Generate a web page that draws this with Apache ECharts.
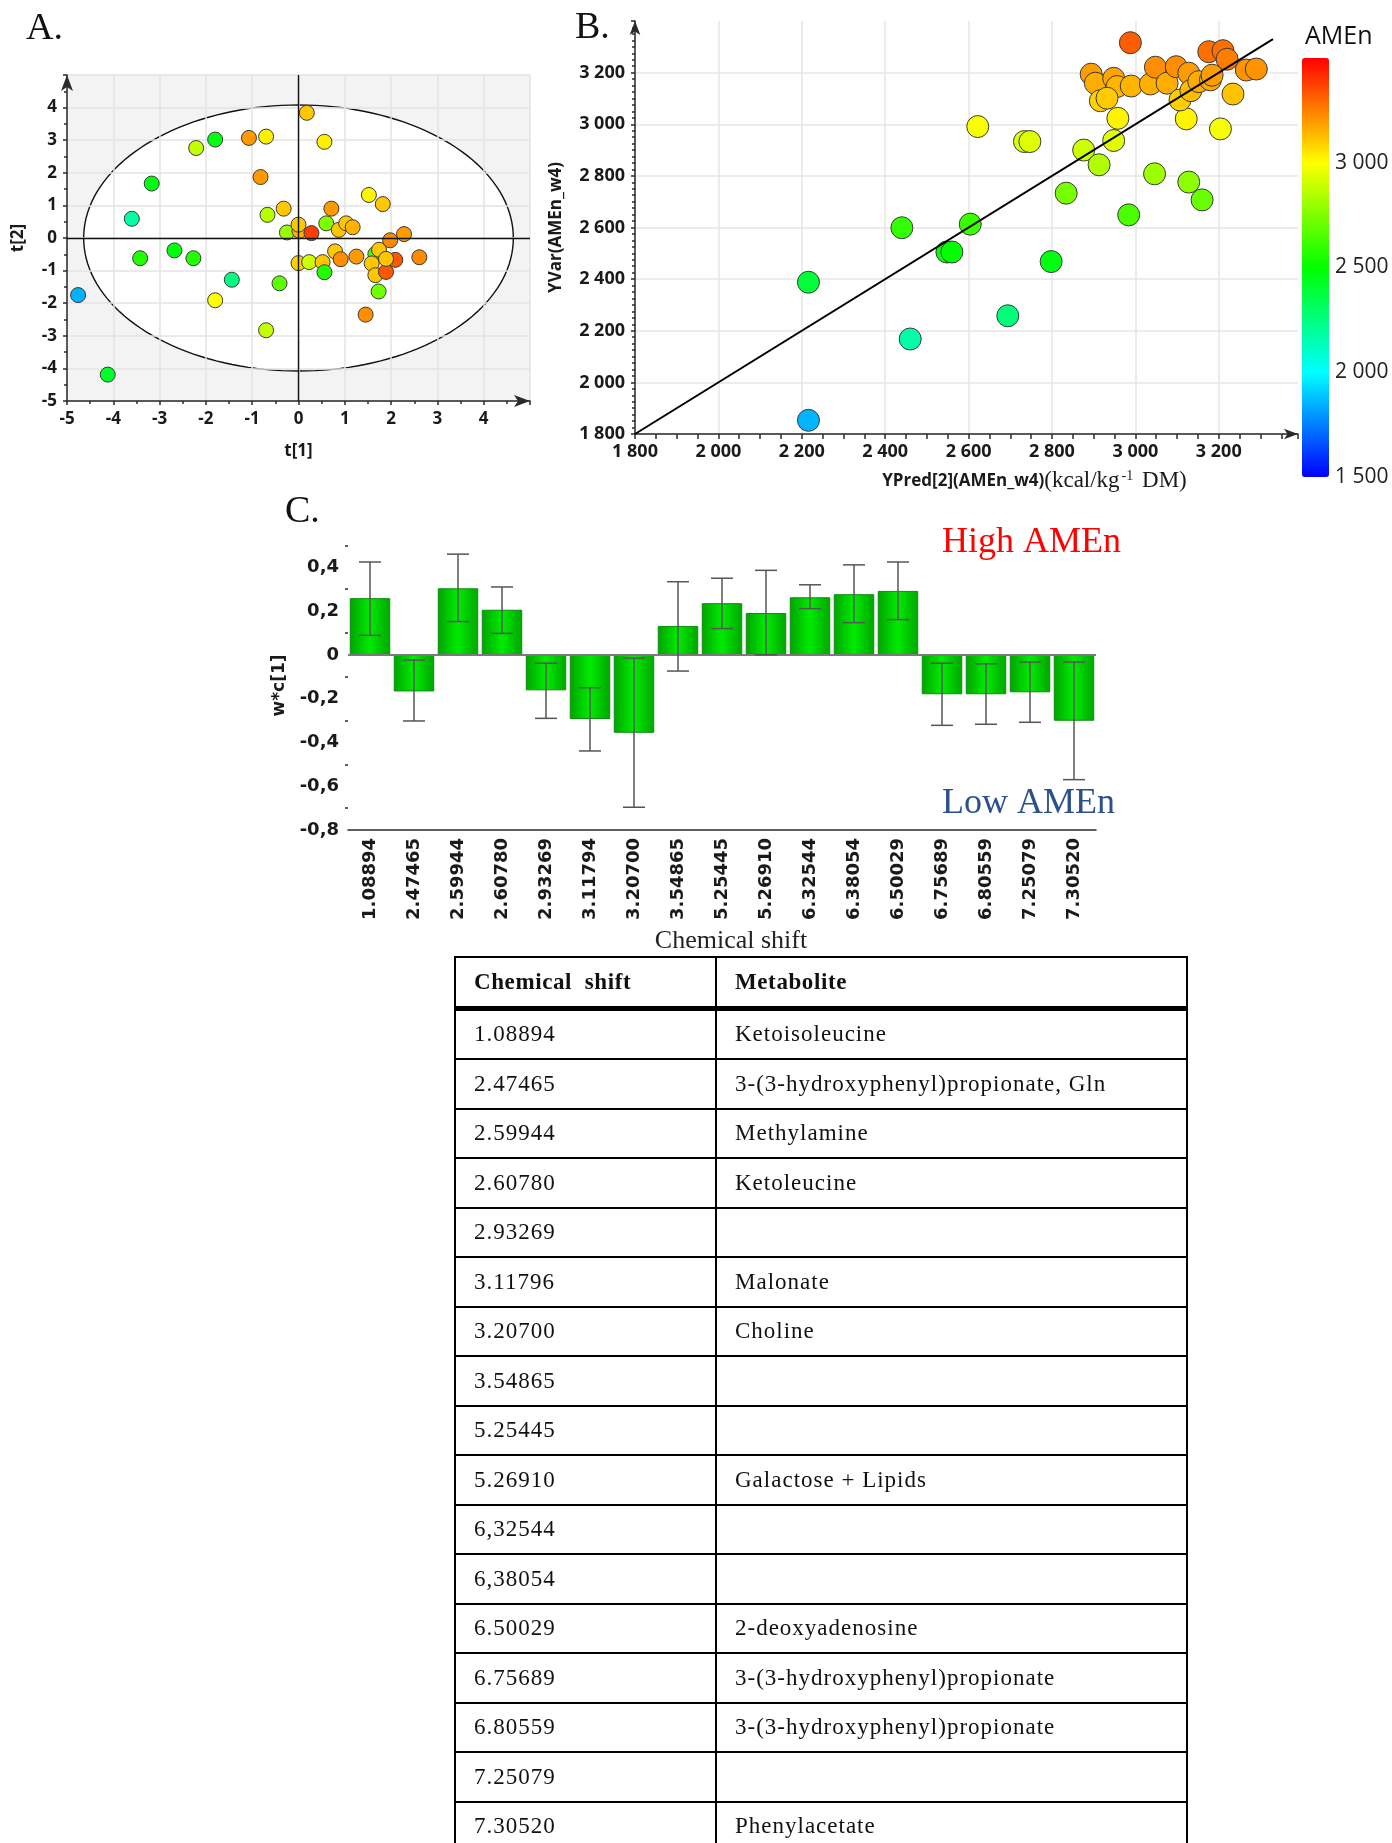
<!DOCTYPE html>
<html>
<head>
<meta charset="utf-8">
<script src="https://cdn.jsdelivr.net/npm/echarts@6/dist/echarts.min.js"></script>
<style>
  html, body { margin: 0; padding: 0; background: #fff; }
  #wrap { position: relative; width: 1392px; height: 1843px; overflow: hidden; }
  #chart { position: absolute; left: 0; top: 0; width: 1392px; height: 1843px; }
  #tbl {
    position: absolute; left: 454px; top: 956px; width: 732px;
    border-collapse: collapse; table-layout: fixed;
    font-family: 'Liberation Serif', 'Times New Roman', serif; font-size: 23px;
    letter-spacing: 1px; color: #111;
  }
  #tbl td { border: 2px solid #000; padding: 0 0 0 18px; height: 47.5px; }
  #tbl tr.head td { font-weight: bold; border-bottom: 5px solid #000; letter-spacing: 0.6px; }
</style>
</head>
<body>
<div id="wrap">
  <div id="chart"></div>
  <table id="tbl"><colgroup><col style="width:261px"><col style="width:471px"></colgroup><tbody id="tbody"></tbody></table>
</div>
<script>
// A: score plot t[1] / t[2], colour = AMEn
const scoreT1 = [-4.76, -4.12, -3.60, -3.17, -3.42, -2.68, -2.27, -2.21, -1.80, -1.80, -1.44, -1.07, -0.70, -0.82, -0.67, -0.32, -0.25, -0.41, -0.70, 0.02, 0.00, 0.28, 0.18, 0.56, 0.00, 0.23, 0.52, 0.56, 0.60, 0.71, 0.87, 1.03, 1.17, 0.79, 0.91, 1.25, 1.52, 1.82, 1.45, 1.66, 1.74, 1.58, 1.66, 1.73, 1.89, 2.09, 1.89, 1.98, 2.28, 2.61]
const scoreT2 = [-1.75, -4.19, 0.59, 1.67, -0.62, -0.38, -0.62, 2.76, 3.02, -1.91, -1.28, 3.07, 3.11, 1.87, 0.71, 0.90, 0.17, -1.39, -2.83, 0.22, 0.41, 0.15, 3.84, 2.95, -0.77, -0.74, -0.74, -1.05, 0.45, 0.90, 0.25, 0.45, 0.33, -0.41, -0.65, -0.57, 1.32, 1.04, -2.35, -0.49, -0.36, -0.78, -1.14, -1.64, -1.04, -0.67, -0.64, -0.07, 0.12, -0.59]
const scoreAMEn = [1850, 2420, 2180, 2470, 2560, 2480, 2570, 2880, 2470, 3000, 2250, 3200, 3030, 3200, 2860, 3110, 2800, 2680, 2880, 3150, 3110, 3380, 3110, 3030, 3090, 2900, 3110, 2560, 2750, 3200, 3110, 3110, 3150, 3110, 3220, 3200, 3020, 3110, 3220, 2650, 3110, 3110, 3110, 2720, 3330, 3330, 3110, 3230, 3200, 3230]
const ellipseRadii = [4.64, 4.08]

// B: observed vs predicted AMEn
const yPred = [2216, 2216, 2460, 2440, 2548, 2560, 2604, 2622, 2734, 2747, 2694, 2798, 2834, 2876, 2913, 2948, 2958, 2984, 2988, 3046, 3122, 3128, 3160, 3204, 3234, 2894, 2904, 2948, 2956, 2916, 2932, 2990, 3036, 3048, 3076, 3098, 3128, 3107, 3133, 3152, 3180, 3184, 3176, 3210, 3220, 3266, 3290]
const yVar = [1853, 2388, 2168, 2599, 2505, 2505, 2613, 2991, 2933, 2933, 2258, 2468, 2733, 2900, 2843, 2937, 3023, 2649, 3316, 2808, 3021, 2776, 2707, 2982, 3117, 3194, 3159, 3178, 3146, 3091, 3101, 3148, 3156, 3221, 3159, 3223, 3198, 3094, 3130, 3165, 3172, 3190, 3281, 3285, 3252, 3210, 3214]
const fitLine = [1800, 3330]

// C: loadings w*c[1] with confidence intervals
const shifts = ['1.08894', '2.47465', '2.59944', '2.60780', '2.93269', '3.11794', '3.20700', '3.54865', '5.25445', '5.26910', '6.32544', '6.38054', '6.50029', '6.75689', '6.80559', '7.25079', '7.30520']
const wc = [0.259, -0.167, 0.304, 0.206, -0.162, -0.293, -0.356, 0.132, 0.236, 0.191, 0.263, 0.277, 0.292, -0.180, -0.180, -0.171, -0.301]
const ciLow = [0.089, -0.302, 0.152, 0.098, -0.290, -0.439, -0.696, -0.074, 0.120, 0.000, 0.211, 0.147, 0.161, -0.322, -0.317, -0.308, -0.570]
const ciHigh = [0.424, -0.024, 0.460, 0.310, -0.038, -0.150, -0.015, 0.334, 0.350, 0.386, 0.320, 0.411, 0.424, -0.038, -0.041, -0.033, -0.033]

// table
const tableShifts = ['1.08894', '2.47465', '2.59944', '2.60780', '2.93269', '3.11796', '3.20700', '3.54865', '5.25445', '5.26910', '6,32544', '6,38054', '6.50029', '6.75689', '6.80559', '7.25079', '7.30520']
const metabolites = ['Ketoisoleucine', '3-(3-hydroxyphenyl)propionate, Gln', 'Methylamine', 'Ketoleucine', '', 'Malonate', 'Choline', '', '', 'Galactose + Lipids', '', '', '2-deoxyadenosine', '3-(3-hydroxyphenyl)propionate', '3-(3-hydroxyphenyl)propionate', '', 'Phenylacetate']

const rainbow = ['#0000ff', '#00ffff', '#00ff00', '#ffff00', '#ff0000']
const sans = "'Open Sans', 'Noto Sans', sans-serif"
const serif = "'Liberation Serif', 'Times New Roman', serif"
const axisColor = '#2a2a2a'

function fmtK(v) {
  const a = Math.abs(v)
  const s = a >= 1000 ? Math.floor(a / 1000) + ' ' + String(a % 1000).padStart(3, '0') : String(a)
  return (v < 0 ? '-' : '') + s
}
function fmtComma(v) {
  return String(Math.round(v * 10) / 10).replace('.', ',')
}

// build the table
const tbody = document.getElementById('tbody')
let html = '<tr class="head"><td>Chemical&nbsp; shift</td><td>Metabolite</td></tr>'
tableShifts.forEach(function(s, i) {
  html += '<tr><td>' + s + '</td><td>' + metabolites[i] + '</td></tr>'
})
tbody.innerHTML = html

const chart = echarts.init(document.getElementById('chart'), null, { renderer: 'canvas' })

const lblA = { fontFamily: sans, fontWeight: 'bold', fontSize: 17, color: '#1a1a1a' }
const lblB = { fontFamily: sans, fontWeight: 'bold', fontSize: 18, color: '#1a1a1a' }
const lblC = { fontFamily: 'DejaVu Sans', fontWeight: 'bold', fontSize: 18, color: '#1a1a1a' }
const lineSt = { color: axisColor, width: 1.5 }

const option = {
  animation: false,
  textStyle: { fontFamily: sans },
  grid: [
    { left: 67, top: 75, width: 463, height: 326, show: true, backgroundColor: '#f3f3f3', borderWidth: 0, z: 0 },
    { left: 635, top: 21, width: 663, height: 413 },
    { left: 348, top: 541, width: 748, height: 289 },
    { left: 1302, top: 58, width: 27, height: 419 }
  ],
  xAxis: [
    {
      gridIndex: 0, type: 'value', min: -5, max: 5, interval: 1, z: 3,
      axisLine: { onZero: false, symbol: ['none', 'arrow'], symbolSize: [9, 16], lineStyle: lineSt },
      axisTick: { length: 4, lineStyle: lineSt },
      minorTick: { show: true, splitNumber: 2, length: 3, lineStyle: lineSt },
      splitLine: { lineStyle: { color: '#e3e3e3', width: 1.5 } },
      axisLabel: Object.assign({ margin: 10, showMaxLabel: false }, lblA),
      name: 't[1]', nameLocation: 'middle', nameGap: 42, nameTextStyle: lblA
    },
    {
      gridIndex: 1, type: 'value', min: 1800, max: 3390, interval: 200,
      axisLine: { onZero: false, symbol: ['none', 'arrow'], symbolSize: [8, 14], lineStyle: lineSt },
      axisTick: { length: 5, lineStyle: lineSt },
      minorTick: { show: true, splitNumber: 4, length: 5, lineStyle: lineSt },
      splitLine: { showMaxLine: false, lineStyle: { color: '#e6e6e6', width: 1.5 } },
      axisLabel: Object.assign({ margin: 9, showMaxLabel: false, formatter: fmtK }, lblB),
      name: '{a|YPred[2](AMEn_w4)}{b|(kcal/kg}{c|-1}{b| DM)}', nameLocation: 'middle', nameGap: 35,
      nameTextStyle: {
        padding: [0, 0, 0, 136],
        rich: {
          a: { fontFamily: sans, fontWeight: 'bold', fontSize: 17, color: '#1a1a1a' },
          b: { fontFamily: serif, fontSize: 23, color: '#1a1a1a' },
          c: { fontFamily: serif, fontSize: 14, color: '#1a1a1a', verticalAlign: 'top', padding: [0, 3, 10, 2] }
        }
      }
    },
    {
      gridIndex: 2, type: 'category', data: shifts,
      axisLine: { onZero: false, lineStyle: lineSt },
      axisTick: { alignWithLabel: true, length: 5, lineStyle: lineSt },
      axisLabel: Object.assign({ rotate: 90, margin: 8, interval: 0 }, lblC),
      name: 'Chemical shift', nameLocation: 'middle', nameGap: 98,
      nameTextStyle: { fontFamily: serif, fontSize: 26, color: '#222', padding: [0, 0, 0, 18] }
    },
    { gridIndex: 3, type: 'value', show: false }
  ],
  yAxis: [
    {
      gridIndex: 0, type: 'value', min: -5, max: 5, interval: 1, z: 3,
      axisLine: { onZero: false, symbol: ['none', 'arrow'], symbolSize: [9, 16], lineStyle: lineSt },
      axisTick: { length: 4, lineStyle: lineSt },
      minorTick: { show: true, splitNumber: 2, length: 3, lineStyle: lineSt },
      splitLine: { lineStyle: { color: '#e3e3e3', width: 1.5 } },
      axisLabel: Object.assign({ margin: 10, showMaxLabel: false }, lblA),
      name: 't[2]', nameLocation: 'middle', nameGap: 40, nameTextStyle: lblA
    },
    {
      gridIndex: 1, type: 'value', min: 1800, max: 3400, interval: 200,
      axisLine: { onZero: false, symbol: ['none', 'arrow'], symbolSize: [8, 14], lineStyle: lineSt },
      axisTick: { length: 4, lineStyle: lineSt },
      minorTick: { show: true, splitNumber: 8, length: 3, lineStyle: lineSt },
      splitLine: { showMaxLine: false, lineStyle: { color: '#e6e6e6', width: 1.5 } },
      axisLabel: Object.assign({ margin: 10, showMaxLabel: false, formatter: fmtK }, lblB),
      name: 'YVar(AMEn_w4)', nameLocation: 'middle', nameGap: 70,
      nameTextStyle: { fontFamily: sans, fontWeight: 'bold', fontSize: 17, color: '#1a1a1a' }
    },
    {
      gridIndex: 2, type: 'value', min: -0.8, max: 0.52, interval: 0.2,
      axisLine: { onZero: false, symbol: ['none', 'arrow'], symbolSize: [7, 14], lineStyle: lineSt },
      axisTick: { length: 4, lineStyle: lineSt },
      minorTick: { show: true, splitNumber: 2, length: 3, lineStyle: lineSt },
      splitLine: { show: false },
      axisLabel: Object.assign({ margin: 9, showMaxLabel: false, formatter: fmtComma }, lblC),
      name: 'w*c[1]', nameLocation: 'middle', nameGap: 60,
      nameTextStyle: { fontFamily: 'DejaVu Sans', fontWeight: 'bold', fontSize: 17, color: '#1a1a1a' }
    },
    {
      gridIndex: 3, type: 'value', position: 'right', min: 1500, max: 3500, interval: 500,
      axisLine: { show: false }, axisTick: { show: false }, splitLine: { show: false },
      axisLabel: { margin: 6, showMaxLabel: false, formatter: fmtK, fontFamily: sans, fontSize: 21, color: '#222' }
    }
  ],
  visualMap: [
    { type: 'continuous', show: false, seriesIndex: 1, dimension: 2, min: 1500, max: 3500, inRange: { color: rainbow } },
    {
      type: 'continuous', show: true, seriesIndex: 2, dimension: 1, min: 1500, max: 3500,
      inRange: { color: rainbow }, calculable: false, hoverLink: false,
      left: 1302, top: 58, itemWidth: 27, itemHeight: 419, padding: 0, text: null, textGap: 0
    }
  ],
  graphic: [
    { type: 'text', left: 26, top: 10, style: { text: 'A.', font: '38px ' + serif, fill: '#111' } },
    { type: 'text', left: 575, top: 9, style: { text: 'B.', font: '38px ' + serif, fill: '#111' } },
    { type: 'text', left: 285, top: 493, style: { text: 'C.', font: '38px ' + serif, fill: '#111' } },
    { type: 'text', left: 942, top: 525, style: { text: 'High AMEn', font: '36px ' + serif, fill: '#ff0000' } },
    { type: 'text', left: 942, top: 786, style: { text: 'Low AMEn', font: '36px ' + serif, fill: '#2a508d' } },
    { type: 'text', left: 1305, top: 24, style: { text: 'AMEn', font: '25px ' + sans, fill: '#111' } }
  ],
  series: [
    {
      // confidence ellipse (Hotelling T2) and zero lines
      type: 'custom', xAxisIndex: 0, yAxisIndex: 0, z: 2, silent: true,
      data: [[0, 0]],
      renderItem: function(params, api) {
        const c = api.coord([api.value(0), api.value(1)])
        const rx = api.coord([ellipseRadii[0], 0])[0] - c[0]
        const ry = c[1] - api.coord([0, ellipseRadii[1]])[1]
        const pts = []
        for (let k = 0; k <= 160; k++) {
          const t = k / 160 * Math.PI * 2
          pts.push([c[0] + rx * Math.cos(t), c[1] + ry * Math.sin(t)])
        }
        return { type: 'polygon', shape: { points: pts }, style: { fill: '#ffffff', stroke: '#111', lineWidth: 1.4 } }
      },
      markLine: {
        silent: true, symbol: 'none', label: { show: false },
        lineStyle: { color: '#111', width: 1.4, type: 'solid' },
        data: [{ xAxis: 0 }, { yAxis: 0 }]
      }
    },
    {
      type: 'scatter', xAxisIndex: 0, yAxisIndex: 0, z: 4,
      symbolSize: 15,
      itemStyle: { borderColor: '#3a3a3a', borderWidth: 1, opacity: 1 },
      data: scoreT1.map(function(v, i) { return [v, scoreT2[i], scoreAMEn[i]] })
    },
    {
      type: 'scatter', xAxisIndex: 1, yAxisIndex: 1, z: 4,
      symbolSize: 22,
      itemStyle: { borderColor: '#3a3a3a', borderWidth: 1, opacity: 1 },
      data: yPred.map(function(v, i) { return [v, yVar[i]] })
    },
    {
      type: 'line', xAxisIndex: 1, yAxisIndex: 1, z: 5, symbol: 'none', silent: true,
      lineStyle: { color: '#000', width: 2 },
      data: fitLine.map(function(v) { return [v, v] })
    },
    {
      type: 'bar', xAxisIndex: 2, yAxisIndex: 2, barWidth: '92%', z: 3,
      itemStyle: {
        color: {
          type: 'linear', x: 0, y: 0, x2: 1, y2: 0,
          colorStops: [{ offset: 0, color: '#00a400' }, { offset: 0.5, color: '#00ec00' }, { offset: 1, color: '#00a400' }]
        },
        borderColor: '#0b8f0b', borderWidth: 1
      },
      data: wc,
      markLine: {
        silent: true, symbol: 'none', label: { show: false },
        lineStyle: { color: '#7a7a7a', width: 2, type: 'solid' },
        data: [{ yAxis: 0 }]
      }
    },
    {
      type: 'custom', xAxisIndex: 2, yAxisIndex: 2, z: 6, silent: true,
      data: wc.map(function(v, i) { return [i, ciLow[i], ciHigh[i]] }),
      renderItem: function(params, api) {
        const lo = api.coord([api.value(0), api.value(1)])
        const hi = api.coord([api.value(0), api.value(2)])
        const half = 11
        const st = { stroke: '#555', lineWidth: 1.5 }
        return {
          type: 'group',
          children: [
            { type: 'line', shape: { x1: lo[0], y1: lo[1], x2: hi[0], y2: hi[1] }, style: st },
            { type: 'line', shape: { x1: lo[0] - half, y1: lo[1], x2: lo[0] + half, y2: lo[1] }, style: st },
            { type: 'line', shape: { x1: hi[0] - half, y1: hi[1], x2: hi[0] + half, y2: hi[1] }, style: st }
          ]
        }
      }
    }
  ]
}

chart.setOption(option)
</script>
</body>
</html>
